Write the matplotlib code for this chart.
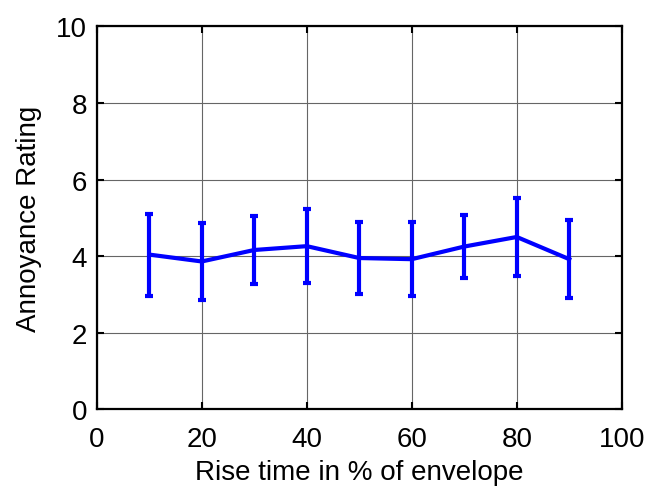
import numpy as np
import matplotlib.pyplot as plt

plt.rcParams['font.family'] = ['Liberation Sans', 'DejaVu Sans']

# data
rise_time = [10, 20, 30, 40, 50, 60, 70, 80, 90]
rating = [4.04, 3.86, 4.16, 4.26, 3.95, 3.92, 4.25, 4.50, 3.92]
err = [1.07, 1.00, 0.90, 0.97, 0.93, 0.97, 0.83, 1.03, 1.02]

fig = plt.figure(figsize=(6.45, 4.89), dpi=100)
ax = fig.add_axes([0.150, 0.161, 0.814, 0.783])

ax.errorbar(rise_time, rating, yerr=err, color='#0000ff', linewidth=3,
            elinewidth=3, capsize=3, capthick=3, zorder=3)

ax.set_xlim(0, 100)
ax.set_ylim(0, 10)
ax.set_xticks(np.arange(0, 101, 20))
ax.set_yticks(np.arange(0, 11, 2))
ax.grid(True, color='#666666', linewidth=0.8, linestyle='-')
ax.set_axisbelow(True)

ax.tick_params(direction='in', top=True, right=True, length=5, width=1.5,
               labelsize=20)
ax.tick_params(axis='y', pad=7)
ax.tick_params(axis='x', pad=12)
for s in ax.spines.values():
    s.set_linewidth(1.6)

ax.set_xlabel("Rise time in % of envelope", fontsize=20, labelpad=5)
ax.set_ylabel("Annoyance Rating", fontsize=20, labelpad=10)

fig.savefig("out.png", dpi=100)
